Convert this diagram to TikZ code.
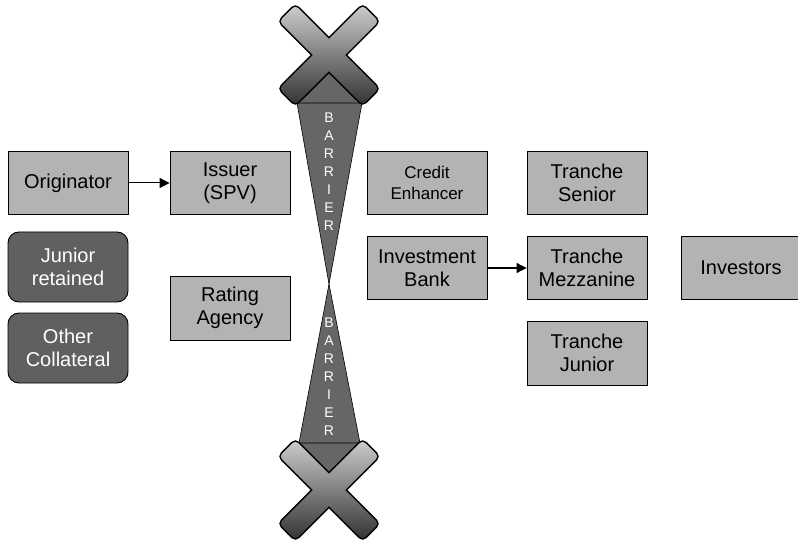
\documentclass[tikz,border=0pt]{standalone}
\usepackage{fontspec}
\setmainfont{Liberation Sans}
\usetikzlibrary{arrows.meta}
\definecolor{boxgray}{HTML}{B3B3B3}
\definecolor{darkbox}{HTML}{606060}
\definecolor{barrierfill}{HTML}{666666}

\tikzset{
  box/.style={draw=black, line width=0.9pt, fill=boxgray, minimum width=120pt,
    minimum height=63pt, align=center, inner sep=0pt,
    font=\fontsize{20}{23}\selectfont},
  smallbox/.style={box, font=\fontsize{17}{21}\selectfont},
  darkrnd/.style={box, fill=darkbox, text=white, rounded corners=11pt,
    minimum height=70pt},
  link/.style={line width=1pt, -{Triangle[length=10pt,width=10pt]}},
  barletter/.style={text=white, inner sep=0pt, font=\fontsize{14}{14}\selectfont},
  barrierwedge/.style={fill=barrierfill, draw=black, line width=0.6pt},
  crossedge/.style={draw=black, line width=3pt, rounded corners=4pt},
  crossface/.style={rounded corners=4pt, top color=gray!40, bottom color=black!80}
}

% a bevelled grey cross centred on #1 (two bars, outlined as one shape)
\newcommand\barriercross[1]{%
  \begin{scope}[shift={#1}]
    \path[crossedge] (-49.8,-33.6) -- (-33.6,-49.8) -- (49.8,33.6) -- (33.6,49.8) -- cycle;
    \path[crossedge] (49.8,-33.6) -- (33.6,-49.8) -- (-49.8,33.6) -- (-33.6,49.8) -- cycle;
    \shade[crossface] (-49.8,-33.6) -- (-33.6,-49.8) -- (49.8,33.6) -- (33.6,49.8) -- cycle;
    \shade[crossface] (49.8,-33.6) -- (33.6,-49.8) -- (-49.8,33.6) -- (-33.6,49.8) -- cycle;
  \end{scope}}

\begin{document}
\begin{tikzpicture}[x=1pt, y=-1pt]
  \fill[white] (0,0) rectangle (798,540);
  \useasboundingbox (0,0) rectangle (798,540);

  % left side of the barrier
  \node[box] (orig) at (68,183) {Originator};
  \node[box] (issuer) at (230,183) {Issuer\\(SPV)};
  \node[darkrnd] (junret) at (68,267) {Junior\\retained};
  \node[darkrnd] (othcol) at (68,348) {Other\\Collateral};
  \node[box, minimum height=64pt] (rating) at (230,308) {Rating\\Agency};

  % right side of the barrier
  \node[smallbox] (credit) at (427,183) {Credit\\Enhancer};
  \node[box] (senior) at (587,183) {Tranche\\Senior};
  \node[box] (ibank) at (427,268) {Investment\\Bank};
  \node[box] (mezz) at (587,268) {Tranche\\Mezzanine};
  \node[box, minimum height=64pt] (junior) at (587,353) {Tranche\\Junior};
  \node[box] (investors) at (741,268) {Investors};

  \draw[link] (orig) -- (issuer);
  \draw[link] (ibank) -- (mezz);

  % the barrier: two wedges meeting at a point, capped by crosses
  \fill[barrierfill] (300,103) -- (329,66) -- (358,103) -- cycle;
  \fill[barrierfill] (300,443) -- (329,478) -- (358,443) -- cycle;
  \path[barrierwedge] (297,103) -- (362,103) -- (329,284) -- cycle;
  \path[barrierwedge] (329,284) -- (360,443) -- (299,443) -- cycle;

  \barriercross{(329,55)}
  \barriercross{(329,490)}

  \foreach \l [count=\i from 0] in {B,A,R,R,I,E,R}
    \node[barletter] (up\i) at (329,118+18*\i) {\l};
  \foreach \l [count=\i from 0] in {B,A,R,R,I,E,R}
    \node[barletter] (lo\i) at (329,323+18*\i) {\l};
\end{tikzpicture}
\end{document}
